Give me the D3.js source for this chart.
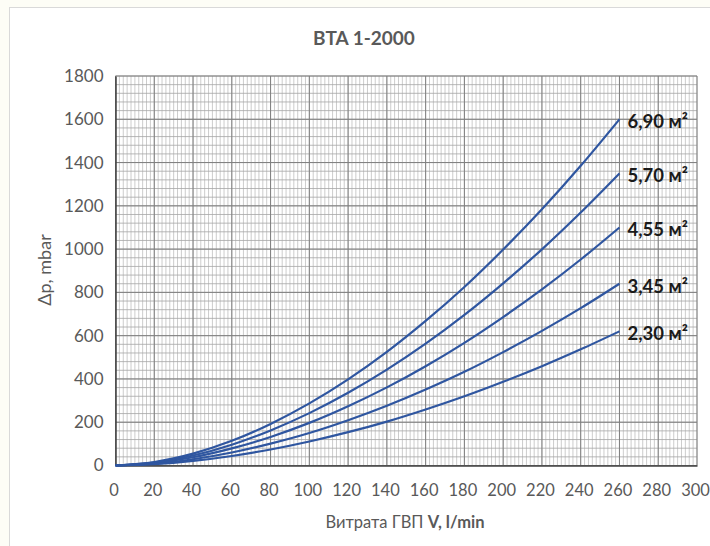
<!DOCTYPE html>
<html><head><meta charset="utf-8">
<script src="https://cdn.jsdelivr.net/npm/d3@7"></script>
<style>
html,body{margin:0;padding:0;background:#fdfdf6;}
svg{display:block;}
</style></head>
<body>
<script>
const flow = [0,20,40,60,80,100,120,140,160,180,200,220,240,260];
const seriesNames = ["6,90 м²","5,70 м²","4,55 м²","3,45 м²","2,30 м²"];
const s690 = [0,16,55,114,192,287,398,525,668,825,998,1184,1385,1600];
const s570 = [0,13,46,96,162,242,336,443,563,696,842,999,1169,1350];
const s455 = [0,11,38,79,132,197,274,361,459,567,686,814,952,1100];
const s345 = [0,8,29,60,101,150,209,276,351,433,524,622,727,840];
const s230 = [0,6,21,44,74,111,154,203,259,320,387,459,537,620];
const xTicks = [0,20,40,60,80,100,120,140,160,180,200,220,240,260,280,300];
const yTicks = [0,200,400,600,800,1000,1200,1400,1600,1800];
const titleText = "BTA 1-2000";
const yTitle = "Δp, mbar";

const W=710,H=546;
const FONT="Lato, 'Open Sans', sans-serif";
const svg=d3.select("body").append("svg").attr("width",W).attr("height",H);
svg.append("rect").attr("x",9.5).attr("y",7.5).attr("width",W).attr("height",H).attr("fill","#ffffff").attr("stroke","#d9d9d9").attr("stroke-width",1);

const x=d3.scaleLinear().domain([0,300]).range([115.5,697]);
const y=d3.scaleLinear().domain([0,1800]).range([465.5,76]);

const g=svg.append("g");
const xMinor=d3.range(0,301,2), yMinor=d3.range(0,1801,40);
g.selectAll(".vx").data(xMinor).join("line")
 .attr("x1",d=>x(d)).attr("x2",d=>x(d)).attr("y1",y(0)).attr("y2",y(1800))
 .attr("stroke","#bfbfbf").attr("stroke-width",0.8);
g.selectAll(".hy").data(yMinor).join("line")
 .attr("x1",x(0)).attr("x2",x(300)).attr("y1",d=>y(d)).attr("y2",d=>y(d))
 .attr("stroke","#a6a6a6").attr("stroke-width",0.8);
g.selectAll(".vX").data(xTicks).join("line")
 .attr("x1",d=>x(d)).attr("x2",d=>x(d)).attr("y1",y(0)).attr("y2",y(1800))
 .attr("stroke","#7f7f7f").attr("stroke-width",1);
g.selectAll(".hY").data(yTicks).join("line")
 .attr("x1",x(0)).attr("x2",x(300)).attr("y1",d=>y(d)).attr("y2",d=>y(d))
 .attr("stroke","#7f7f7f").attr("stroke-width",1);

const xAxis=d3.axisBottom(x).tickValues(xTicks).tickSize(0).tickPadding(19).tickFormat(d3.format("d"));
const yAxis=d3.axisLeft(y).tickValues(yTicks).tickSize(0).tickPadding(12).tickFormat(d3.format("d"));
const gx=svg.append("g").attr("transform",`translate(0,${y(0)})`).call(xAxis);
const gy=svg.append("g").attr("transform",`translate(${x(0)},0)`).call(yAxis);
[gx,gy].forEach(a=>{
  a.select(".domain").attr("stroke","#404040").attr("stroke-width",1.5);
  a.selectAll("text").attr("fill","#595959").style("font-family",FONT).style("font-size","17px");
});
gx.selectAll("text").style("font-size","16.5px").attr("dx","-2");

const all=[s690,s570,s455,s345,s230];
const line=d3.line().x((d,i)=>x(flow[i])).y(d=>y(d)).curve(d3.curveMonotoneX);
svg.append("g").selectAll("path").data(all).join("path")
 .attr("d",d=>line(d)).attr("fill","none").attr("stroke","#2f56a0").attr("stroke-width",2.2);

svg.append("g").selectAll("text").data(all).join("text")
 .attr("x",x(flow[flow.length-1])+8).attr("y",d=>y(d[d.length-1])+9)
 .text((d,i)=>seriesNames[i])
 .attr("fill","#1a1a1a").style("font-family",FONT).style("font-size","18.5px").style("font-weight","bold");

svg.append("text").attr("x",364).attr("y",45).attr("text-anchor","middle").text(titleText)
 .attr("fill","#595959").style("font-family",FONT).style("font-size","19px").style("font-weight","bold");
svg.append("text").attr("transform","translate(51,270) rotate(-90)").attr("text-anchor","middle").text(yTitle)
 .attr("fill","#595959").style("font-family",FONT).style("font-size","18px");
const xt=svg.append("text").attr("x",405).attr("y",528).attr("text-anchor","middle")
 .attr("fill","#595959").style("font-family",FONT).style("font-size","16.5px");
xt.append("tspan").text("Витрата ГВП ");
xt.append("tspan").text("V, l/min").style("font-weight","bold");
</script>
</body></html>
